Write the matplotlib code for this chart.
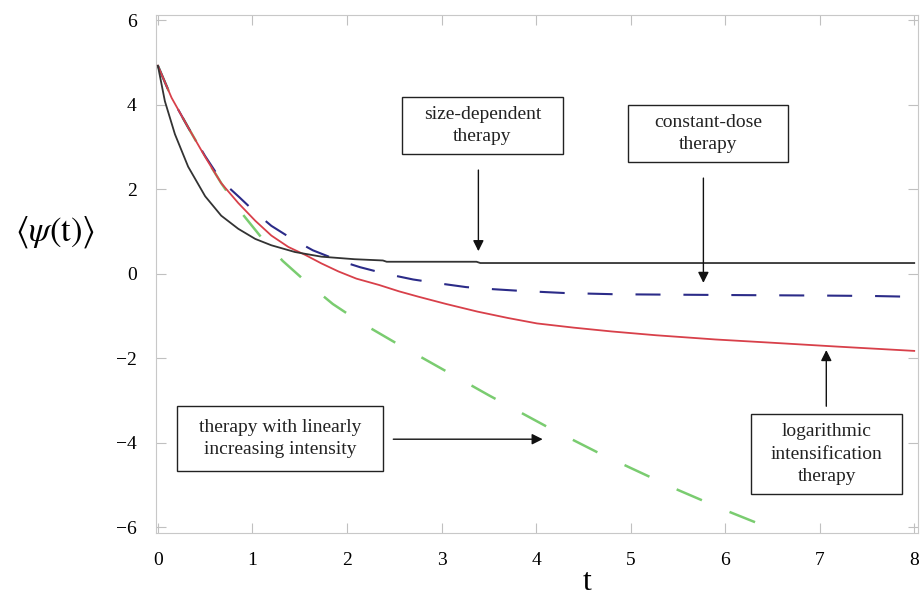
import numpy as np
import matplotlib
matplotlib.use("Agg")
import matplotlib.pyplot as plt
from matplotlib.patches import Rectangle

plt.rcParams['font.family'] = ['Liberation Serif', 'DejaVu Serif']
plt.rcParams['mathtext.fontset'] = 'stix'

# size-dependent therapy (black)
t_size = [0, 0.074, 0.18, 0.32, 0.5, 0.67, 0.85, 1.03, 1.2, 1.45, 1.73, 2.08,
          2.38, 2.42, 3.37, 3.41, 8.0]
psi_size = [4.92, 4.08, 3.3, 2.53, 1.83, 1.37, 1.06, 0.82, 0.67, 0.51, 0.40, 0.34,
            0.31, 0.28, 0.28, 0.25, 0.25]

# constant-dose therapy (blue dashed)
t_const = [0, 0.145, 0.32, 0.5, 0.67, 0.86, 1.03, 1.2, 1.42, 1.64, 1.9, 2.14, 2.4,
           2.7, 3.0, 3.26, 3.55, 3.84, 4.3, 4.85, 5.5, 6.19, 7.0, 7.55, 8.0]
psi_const = [4.92, 4.16, 3.46, 2.78, 2.2, 1.81, 1.45, 1.13, 0.82, 0.55, 0.32, 0.15, 0.0,
             -0.14, -0.24, -0.32, -0.37, -0.41, -0.46, -0.49, -0.5, -0.51, -0.52, -0.53, -0.55]

# logarithmic intensification therapy (red)
t_log = [0, 0.145, 0.32, 0.5, 0.67, 0.85, 1.03, 1.2, 1.38, 1.56, 1.73, 1.91, 2.1,
         2.34, 2.55, 2.76, 3.05, 3.38, 3.7, 4.01, 4.4, 4.8, 5.27, 5.9, 6.52, 7.2, 8.0]
psi_log = [4.92, 4.16, 3.46, 2.76, 2.14, 1.67, 1.25, 0.9, 0.63, 0.44, 0.24, 0.05, -0.12,
           -0.27, -0.42, -0.55, -0.72, -0.9, -1.05, -1.18, -1.28, -1.37, -1.46, -1.56,
           -1.64, -1.73, -1.83]

# therapy with linearly increasing intensity (green dashed)
t_lin = [0, 0.145, 0.32, 0.5, 0.67, 0.88, 1.1, 1.32, 1.58, 1.85, 2.14, 2.5, 3.0, 3.5,
         4.12, 4.64, 5.0, 5.5, 6.0, 6.39]
psi_lin = [4.92, 4.16, 3.46, 2.76, 2.14, 1.45, 0.84, 0.3, -0.22, -0.72, -1.15, -1.62,
           -2.25, -2.88, -3.63, -4.22, -4.6, -5.12, -5.6, -5.95]

x_ticks = [0, 1, 2, 3, 4, 5, 6, 7, 8]
y_ticks = [-6, -4, -2, 0, 2, 4, 6]

fig = plt.figure(figsize=(9.24, 5.99), dpi=100)
ax = fig.add_axes([156 / 924, 1 - 533 / 599, 762 / 924, 518 / 599])

ax.plot(t_lin, psi_lin, color='#7acc70', lw=1.8, dashes=(11, 12), zorder=2)
ax.plot(t_const, psi_const, color='#2b2b88', lw=1.5, dashes=(12, 11), zorder=3)
ax.plot(t_log, psi_log, color='#d8404a', lw=1.3, zorder=4)
ax.plot(t_size, psi_size, color='#333333', lw=1.3, zorder=5)

ax.set_xlim(-0.02, 8.04)
ax.set_ylim(-6.14, 6.12)
ax.set_xticks(x_ticks)
ax.set_yticks(y_ticks)
ax.set_yticklabels(['\u2212' + str(-v) if v < 0 else str(v) for v in y_ticks])
for s in ax.spines.values():
    s.set_color('#c8c8c8')
ax.tick_params(direction='in', length=7, color='#c0c0c0', top=True, right=True,
               labelsize=14, pad=14)

# boxes with labels
boxes = [
    ((2.582, 2.828), 1.704, 1.350, (3.434, 3.503), 'size-dependent\ntherapy'),
    ((4.974, 2.639), 1.693, 1.349, (5.820, 3.314), 'constant-dose\ntherapy'),
    ((0.201, -4.675), 2.180, 1.539, (1.291, -3.905), 'therapy with linearly\nincreasing intensity'),
    ((6.275, -5.219), 1.598, 1.894, (7.074, -4.272), 'logarithmic\nintensification\ntherapy'),
]
for corner, w, h, c, txt in boxes:
    ax.add_patch(Rectangle(corner, w, h, facecolor='white', edgecolor='#222222',
                           lw=1.0, zorder=6))
    ax.text(c[0], c[1], txt, ha='center', va='center', fontsize=14, color='#222222',
            linespacing=1.45, zorder=7)

arrows = [
    ((3.39, 2.45), (3.39, 0.53)),
    ((5.77, 2.26), (5.77, -0.22)),
    ((2.49, -3.92), (4.07, -3.92)),
    ((7.07, -3.14), (7.07, -1.81)),
]
for start, end in arrows:
    ax.annotate('', xy=end, xytext=start,
                arrowprops=dict(arrowstyle='-|>', color='#111111', lw=1.0,
                                mutation_scale=16, shrinkA=0, shrinkB=0), zorder=7)

fig.text(55 / 924, 1 - 232 / 599, r'$\langle\psi(\mathrm{t})\rangle$', fontsize=25,
         ha='center', va='center')
fig.text(587 / 924, 1 - 582 / 599, 't', fontsize=23, ha='center', va='center')

fig.savefig('out.png', dpi=100)
